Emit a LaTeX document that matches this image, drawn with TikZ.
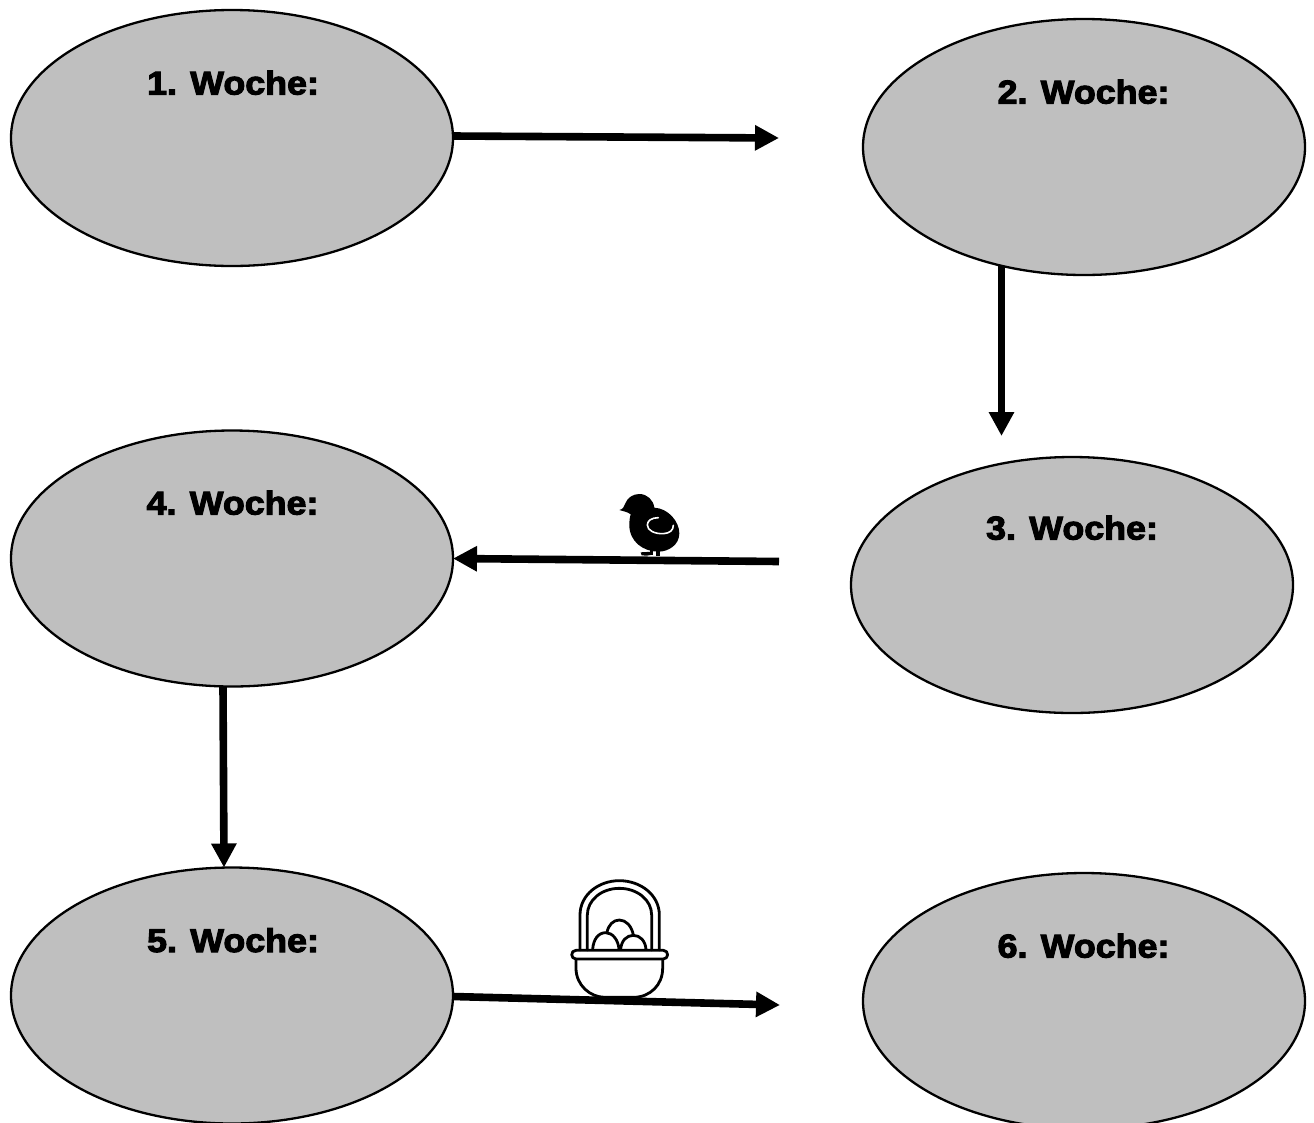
\documentclass[tikz,border=0pt]{standalone}
\usepackage{fontspec}
\usetikzlibrary{shapes.geometric,arrows.meta,calc}
\newfontfamily\wkfont[BoldFeatures={FakeBold=3.2,FakeStretch=1.085}]{Liberation Sans}
\definecolor{blobgray}{HTML}{BFBFBF}
\tikzset{
  week/.style={ellipse,draw=black,fill=blobgray,line width=2.3pt,inner sep=0pt,outer sep=0pt,minimum width=442pt,minimum height=256pt},
  weektext/.style={anchor=base,inner sep=0pt,font=\wkfont\bfseries\fontsize{33}{33}\selectfont,text=black},
  flow/.style={line width=7.6pt,-{Triangle[length=24pt,width=24pt]},black},
  basketline/.style={line width=2.8pt,black,line cap=round,line join=round}
}
\begin{document}
\begin{tikzpicture}[x=1pt,y=-1pt]
\useasboundingbox[fill=white] (0,0) rectangle (1314,1122);
\begin{scope}
\clip (0,0) rectangle (1314,1122);
\node[week] (n1) at (232,138) {};
\node[week] (n2) at (1084,147) {};
\node[week] (n3) at (1072,585) {};
\node[week] (n4) at (232,558.5) {};
\node[week] (n5) at (232,995.5) {};
\node[week] (n6) at (1084,1001) {};
\end{scope}
\node[weektext] (t1) at (233,94.5) {1. Woche:};
\node[weektext] (t2) at (1083.5,103.5) {2. Woche:};
\node[weektext] (t3) at (1072,539.5) {3. Woche:};
\node[weektext] (t4) at (232.5,514.5) {4. Woche:};
\node[weektext] (t5) at (233,952) {5. Woche:};
\node[weektext] (t6) at (1083.5,957.5) {6. Woche:};
\coordinate (e1) at (779,138);
\coordinate (e2) at (1001.5,436);
\coordinate (s3) at (779,561.5);
\coordinate (e5) at (780,1005);
\draw[flow] ($(n1.east)+(0,-2)$) -- (e1);
\draw[flow] (e2 |- n2.235) -- (e2);
\draw[flow] (s3) -- (n4.east);
\draw[flow] ($(n4.south)+(-9,0)$) -- ($(n5.north)+(-8,0)$);
\draw[flow] ($(n5.east)+(0,1)$) -- (e5);
% chick
\begin{scope}[shift={(590,470)},x=0.3333pt,y=-0.3333pt]
\fill[black] (88,120) .. controls (98,118) and (103,110) .. (105,102)
  .. controls (112,82) and (130,72) .. (148,72)
  .. controls (172,72) and (190,90) .. (193,113)
  .. controls (235,115) and (268,155) .. (268,190)
  .. controls (268,225) and (235,245) .. (205,245)
  .. controls (160,245) and (118,215) .. (118,165)
  .. controls (118,150) and (120,140) .. (122,133)
  .. controls (112,125) and (100,124) .. (88,120) -- cycle;
\fill[black] (180,235) rectangle (188,255);
\fill[black] (198,238) rectangle (210,258);
\fill[black] (152,247) -- (188,245) -- (188,254) -- (170,257) -- (155,256) -- cycle;
\draw[white,line width=1.6pt,line cap=round] (205,143)
  .. controls (185,143) and (172,152) .. (172,165)
  .. controls (172,182) and (195,192) .. (220,191)
  .. controls (240,190) and (250,180) .. (250,166);
\end{scope}
% basket
\begin{scope}[shift={(550,870)},x=0.3333pt,y=-0.3333pt]
\draw[basketline] (90,240) -- (90,135) .. controls (90,75) and (145,32) .. (208,32)
  .. controls (272,32) and (328,75) .. (328,135) -- (328,240);
\draw[basketline] (112,240) -- (112,135) .. controls (112,90) and (155,55) .. (208,55)
  .. controls (262,55) and (305,90) .. (305,135) -- (305,240);
\draw[basketline] (128,238) .. controls (130,208) and (145,188) .. (167,188)
  .. controls (188,188) and (205,210) .. (207,238);
\draw[basketline] (212,238) .. controls (214,212) and (230,196) .. (250,196)
  .. controls (270,196) and (286,212) .. (288,238);
\draw[basketline] (171,187) .. controls (175,165) and (190,150) .. (208,150)
  .. controls (228,150) and (245,168) .. (250,195);
\draw[basketline] (78,241) -- (340,241)
  .. controls (357,241) and (357,267) .. (340,267) -- (78,267)
  .. controls (61,267) and (61,241) .. (78,241) -- cycle;
\draw[basketline] (78,268) -- (78,295) .. controls (78,345) and (120,382) .. (165,382)
  -- (250,382) .. controls (300,382) and (338,345) .. (338,295) -- (338,268);
\end{scope}
\end{tikzpicture}
\end{document}
